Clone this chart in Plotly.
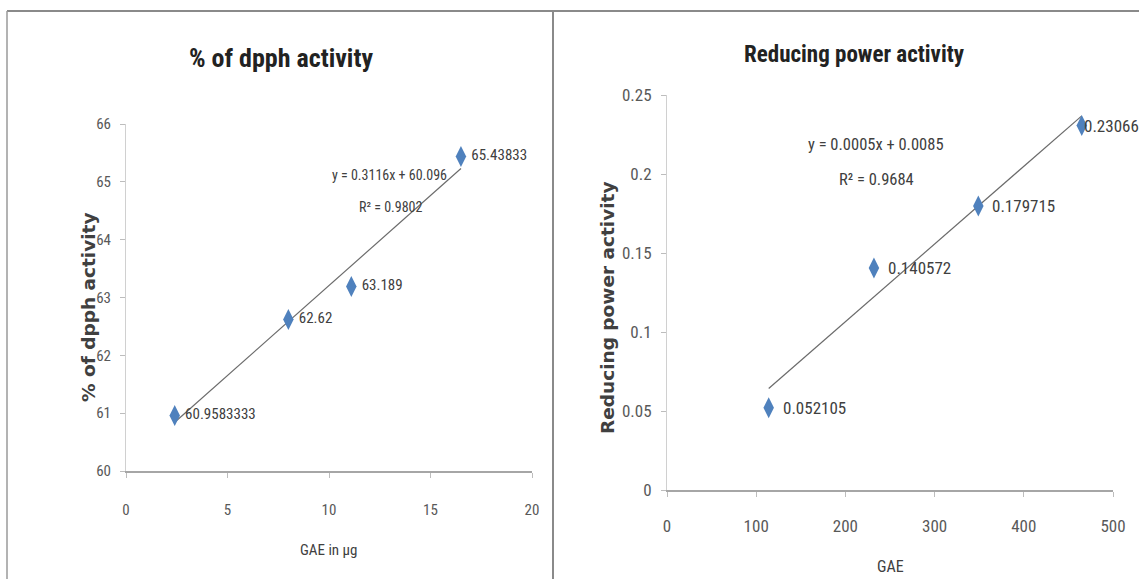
import numpy as np
import plotly.graph_objects as go

W, H = 1139, 579

# ---- data: % of dpph activity ----
dpph_x = [2.4, 8.0, 11.1, 16.5]
dpph_y = [60.9583333, 62.62, 63.189, 65.43833]
dpph_labels = ["60.9583333", "62.62", "63.189", "65.43833"]
dpph_eq = "y = 0.3116x + 60.096"
dpph_r2 = "R² = 0.9802"

# ---- data: Reducing power activity ----
rp_x = [114, 232, 349, 465]
rp_y = [0.052105, 0.140572, 0.179715, 0.23066]
rp_labels = ["0.052105", "0.140572", "0.179715", "0.23066"]
rp_eq = "y = 0.0005x + 0.0085"
rp_r2 = "R² = 0.9684"

left_ticks_y = [60, 61, 62, 63, 64, 65, 66]
left_ticks_x = [0, 5, 10, 15, 20]
right_ticks_y = [0, 0.05, 0.1, 0.15, 0.2, 0.25]
right_ticks_x = [0, 100, 200, 300, 400, 500]

# label offsets (styling): last right label is pulled left to stay inside the chart
rp_label_shift = [12, 12, 12, 0]

NARROW = "Liberation Sans Narrow, Roboto Condensed, Arial Narrow, sans-serif"
BLUE = "#4F81BD"

def px(x):
    return x / W

def py(y):
    return 1 - y / H

fig = go.Figure()

def add_trend(xs, ys, xa, ya):
    c = np.polyfit(xs, ys, 1)
    tx = [min(xs), max(xs)]
    ty = [c[0] * v + c[1] for v in tx]
    fig.add_trace(go.Scatter(x=tx, y=ty, mode="lines", xaxis=xa, yaxis=ya,
                             line=dict(color="#6b6b6b", width=1.2),
                             showlegend=False, hoverinfo="skip"))

add_trend(dpph_x, dpph_y, "x", "y")
add_trend(rp_x, rp_y, "x2", "y2")

fig.add_trace(go.Scatter(x=dpph_x, y=dpph_y, mode="markers+text", xaxis="x", yaxis="y",
                         marker=dict(symbol="diamond-tall", size=15, color=BLUE),
                         text=dpph_labels, textposition="middle right",
                         textfont=dict(family=NARROW, size=15, color="#404040"),
                         showlegend=False, cliponaxis=False))
fig.add_trace(go.Scatter(x=rp_x, y=rp_y, mode="markers", xaxis="x2", yaxis="y2",
                         marker=dict(symbol="diamond-tall", size=15, color=BLUE),
                         showlegend=False, cliponaxis=False))

def axis_common(fs):
    return dict(showgrid=False, zeroline=False, showline=True,
                ticks="outside", ticklen=5, tickcolor="#bdbdbd",
                tickfont=dict(family=NARROW, size=fs, color="#595959"),
                automargin=False)

fig.update_layout(
    width=W, height=H,
    margin=dict(l=0, r=0, t=0, b=0),
    paper_bgcolor="white", plot_bgcolor="white",
    showlegend=False,
    xaxis=dict(domain=[px(126), px(532)], range=[0, 20], tickvals=left_ticks_x,
               linecolor="#a6a6a6", linewidth=1.5, ticklabelstandoff=19,
               anchor="y", **axis_common(15)),
    yaxis=dict(domain=[py(471), py(124)], range=[60, 66], tickvals=left_ticks_y,
               linecolor="#d0d0d0", linewidth=1, ticklabelstandoff=6,
               anchor="x", **axis_common(15)),
    xaxis2=dict(domain=[px(667), px(1113)], range=[0, 500], tickvals=right_ticks_x,
                linecolor="#a6a6a6", linewidth=1.5, ticklabelstandoff=15,
                anchor="y2", **axis_common(17)),
    yaxis2=dict(domain=[py(490), py(95)], range=[0, 0.25], tickvals=right_ticks_y,
                ticktext=["0", "0.05", "0.1", "0.15", "0.2", "0.25"],
                linecolor="#d0d0d0", linewidth=1, ticklabelstandoff=6,
                anchor="x2", **axis_common(17)),
)

ann = []
def text(x, y, s, size, color="#404040", family=NARROW, angle=0):
    ann.append(dict(x=px(x), y=py(y), xref="paper", yref="paper", text=s,
                    showarrow=False, textangle=angle,
                    font=dict(family=family, size=size, color=color),
                    xanchor="center", yanchor="middle"))

# data labels for the right panel
for xv, yv, lab, sh in zip(rp_x, rp_y, rp_labels, rp_label_shift):
    ann.append(dict(x=xv, y=yv, xref="x2", yref="y2", text=lab, showarrow=False,
                    xanchor="left", yanchor="middle", xshift=sh,
                    font=dict(family=NARROW, size=17, color="#404040")))

# titles
text(281, 58, "<b>% of dpph activity</b>", 26, color="#222222")
text(854, 55, "<b>Reducing power activity</b>", 23, color="#222222")
# axis titles
text(328, 550, "GAE in µg", 15, color="#404040")
text(890, 566, "GAE", 16, color="#404040")
text(88, 308, "<b>% of dpph activity</b>", 18.5, color="#404040", family="DejaVu Sans", angle=-90)
text(607, 308, "<b>Reducing power activity</b>", 18.5, color="#404040", family="DejaVu Sans", angle=-90)
# equations
text(389, 175, dpph_eq, 14)
text(391, 207, dpph_r2, 14)
text(876, 144, rp_eq, 16.5)
text(876, 179, rp_r2, 16.5)

fig.update_layout(annotations=ann)

# panel borders
shapes = [
    dict(type="line", xref="paper", yref="paper", x0=px(7), x1=1, y0=py(11), y1=py(11),
         line=dict(color="#8a8a8a", width=2)),
    dict(type="line", xref="paper", yref="paper", x0=px(7), x1=px(7), y0=py(11), y1=0,
         line=dict(color="#9a9a9a", width=1.5)),
    dict(type="line", xref="paper", yref="paper", x0=px(553), x1=px(553), y0=py(11), y1=0,
         line=dict(color="#8a8a8a", width=2)),
]
fig.update_layout(shapes=shapes)

fig.write_html("out.html", config={"displayModeBar": False},
               post_script="document.body.style.margin='0';document.body.style.overflow='hidden';")
